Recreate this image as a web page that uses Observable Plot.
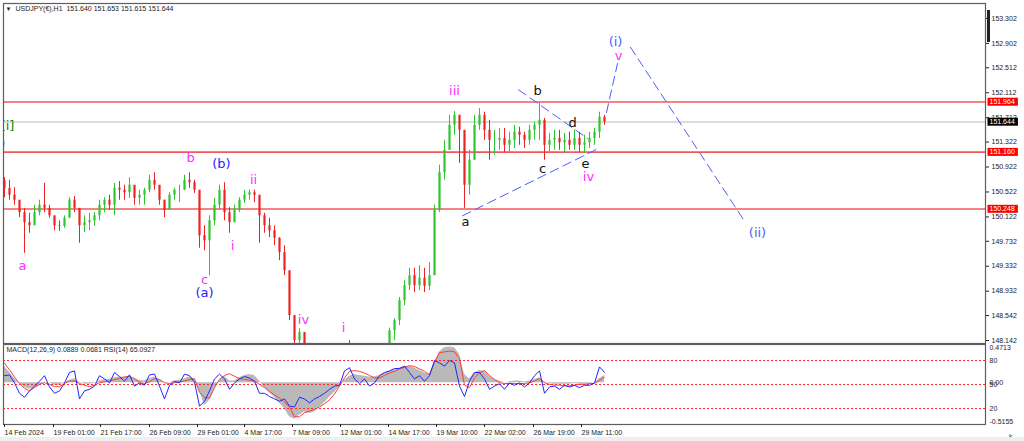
<!DOCTYPE html>
<html><head><meta charset="utf-8">
<script src="https://cdn.jsdelivr.net/npm/d3@7"></script>
<script src="https://cdn.jsdelivr.net/npm/@observablehq/plot@0.6"></script>
<style>
html,body{margin:0;padding:0;background:#fff;}
#wrap{position:relative;width:1024px;height:441px;overflow:hidden;background:#fff;}
#wrap svg{position:absolute;left:0;}
.deco{position:absolute;}
</style></head><body><div id="wrap"></div>
<script>
// ---------- DATA ----------
const symbolTitle = "USDJPY(€),H1  151.640 151.653 151.615 151.644";
const indicatorTitle = "MACD(12,26,9) 0.0889 0.0681 RSI(14) 65.0927";
const firstOpen = 150.70;
const high = [150.75,150.71,150.59,150.34,150.26,150.18,150.31,150.39,150.66,150.31,
150.10,150.06,150.14,150.43,150.45,150.23,150.14,150.18,150.19,150.39,
150.43,150.47,150.66,150.69,150.63,150.75,150.55,150.55,150.58,150.79,
150.83,150.55,150.39,150.51,150.58,150.63,150.79,150.83,150.71,150.39,
149.98,150.14,150.42,150.63,150.67,150.27,150.31,150.43,150.55,150.55,
150.55,150.43,150.18,150.10,149.98,149.79,149.66,149.02,148.54,148.33,
148.20,147.80,147.30,147.10,147.20,147.30,147.60,147.80,148.00,148.14,
147.95,147.90,147.95,148.00,147.90,148.05,148.08,148.34,148.49,148.83,
149.10,149.30,149.30,149.34,149.30,149.39,150.31,150.95,151.35,151.75,
151.81,151.75,151.27,151.19,151.75,151.86,151.80,151.67,151.51,151.54,
151.54,151.48,151.59,151.56,151.48,151.59,151.64,151.96,151.70,151.46,
151.51,151.51,151.46,151.48,151.51,151.48,151.43,151.48,151.54,151.80,
151.75];
const low = [150.43,150.39,150.31,150.11,149.54,149.86,150.03,150.14,150.19,150.10,
149.90,149.89,149.94,150.19,150.19,149.70,149.87,149.90,149.97,150.06,
150.19,150.23,150.14,150.39,150.39,150.42,150.31,150.31,150.31,150.51,
150.55,150.31,150.11,150.23,150.39,150.35,150.55,150.58,150.50,149.62,
149.58,149.18,149.98,150.23,150.06,149.86,150.03,150.19,150.34,150.39,
150.35,149.70,149.86,149.79,149.66,149.42,149.18,148.46,148.06,147.95,
147.60,147.05,146.70,146.50,146.55,146.70,147.05,147.30,147.55,147.65,
147.50,147.45,147.60,147.60,147.50,147.75,147.80,147.95,148.14,148.38,
148.70,148.94,148.91,148.94,148.91,148.94,149.23,150.19,150.71,151.19,
151.43,150.98,150.26,150.47,151.03,151.51,151.35,151.03,151.11,151.19,
151.15,151.15,151.22,151.27,151.22,151.27,151.35,151.35,151.03,151.15,
151.19,151.19,151.15,151.19,151.19,151.15,151.14,151.22,151.27,151.38,
151.59];
const close = [150.58,150.47,150.39,150.19,150.03,149.98,150.19,150.31,150.26,150.14,
149.98,149.97,150.10,150.39,150.26,149.98,150.03,150.06,150.14,150.31,
150.39,150.31,150.58,150.55,150.51,150.63,150.42,150.47,150.55,150.71,
150.63,150.39,150.23,150.47,150.55,150.55,150.71,150.67,150.55,149.82,
149.74,150.06,150.31,150.55,150.19,150.03,150.23,150.39,150.47,150.51,
150.47,150.14,149.98,149.90,149.78,149.55,149.26,148.54,148.14,148.27,
147.70,147.15,146.90,146.95,146.80,147.15,147.50,147.70,147.90,147.75,
147.70,147.80,147.85,147.70,147.85,147.95,148.02,148.30,148.46,148.78,
149.02,149.18,149.02,149.14,149.01,149.18,150.23,150.83,151.19,151.59,
151.75,151.51,150.63,151.03,151.59,151.75,151.51,151.35,151.35,151.38,
151.27,151.35,151.48,151.43,151.35,151.51,151.59,151.67,151.27,151.35,
151.38,151.31,151.35,151.27,151.38,151.27,151.31,151.38,151.48,151.72,
151.644];
const rsi = [61,62,52,39,34,42,48,54,61,47,
39,42,52,65,67,32,42,44,48,61,
57,52,65,60,54,62,48,52,49,62,
63,48,32,49,54,52,63,61,53,23,
29,42,57,63,57,44,52,57,60,58,
54,39,39,35,32,29,32,23,22,34,
32,27,32,35,39,44,48,49,67,71,
57,51,57,48,52,61,65,67,70,70,
73,65,57,61,54,61,80,77,73,80,
77,48,35,54,65,65,57,44,48,51,
44,52,49,52,47,52,61,67,39,47,
48,44,49,47,49,46,49,49,52,72,
65.09];
const macd = [0.20,0.13,0.05,-0.01,-0.06,-0.08,-0.06,-0.04,0.00,0.00,
-0.03,-0.03,0.00,0.03,0.05,0.01,-0.02,-0.02,-0.01,0.02,
0.04,0.04,0.06,0.07,0.07,0.08,0.05,0.03,0.02,0.05,
0.07,0.04,0.00,0.00,0.02,0.03,0.05,0.07,0.05,-0.10,
-0.28,-0.22,-0.08,0.03,0.08,0.02,0.02,0.06,0.09,0.10,
0.09,0.02,-0.06,-0.12,-0.18,-0.25,-0.32,-0.42,-0.45,-0.40,
-0.36,-0.38,-0.36,-0.30,-0.25,-0.18,-0.12,-0.05,0.03,0.08,
0.10,0.09,0.08,0.07,0.07,0.09,0.12,0.14,0.16,0.18,
0.20,0.20,0.18,0.15,0.12,0.10,0.25,0.38,0.43,0.44,
0.43,0.35,0.10,0.05,0.12,0.15,0.14,0.08,0.04,0.02,
0.00,0.01,0.02,0.02,0.01,0.02,0.04,0.06,0.01,-0.01,
-0.02,-0.02,-0.02,-0.02,-0.01,-0.02,-0.02,-0.01,0.00,0.05,
0.0889];
const signal = [0.24,0.16,0.07,-0.01,-0.07,-0.10,-0.06,-0.02,0.00,-0.02,
-0.05,-0.05,-0.01,0.02,0.02,-0.01,-0.03,-0.05,-0.03,0.00,
0.01,0.02,0.04,0.05,0.07,0.08,0.05,0.00,-0.01,0.01,
0.05,0.04,0.00,-0.01,0.00,0.01,0.02,0.04,0.05,-0.12,
-0.18,-0.19,-0.06,0.04,0.09,0.11,0.08,0.05,0.04,0.03,
0.02,-0.02,-0.06,-0.11,-0.15,-0.19,-0.24,-0.30,-0.42,-0.42,
-0.37,-0.35,-0.33,-0.30,-0.26,-0.21,-0.14,-0.04,0.06,0.14,
0.15,0.14,0.12,0.09,0.06,0.06,0.09,0.12,0.14,0.17,
0.19,0.21,0.20,0.17,0.14,0.10,0.25,0.37,0.38,0.39,
0.38,0.30,-0.03,-0.06,0.06,0.12,0.15,0.09,0.04,0.00,
-0.01,-0.01,-0.01,-0.01,-0.01,0.00,0.02,0.05,0.00,-0.02,
-0.03,-0.03,-0.04,-0.04,-0.03,-0.02,-0.02,-0.01,-0.01,0.03,
0.0681];
const priceTicks = [153.302,152.902,152.512,152.112,151.712,151.322,150.922,150.522,150.122,149.732,149.332,148.932,148.542,148.142];
const levelPrices = [151.964,151.160,150.248];
const currentPrice = 151.644;
const dateTickBars = [-0.2,9.6,19,28.8,38.4,47.8,57.4,67,76.6,86.2,95.8,105.6,115.2];
const dateTickLabels = ["14 Feb 2024","19 Feb 01:00","21 Feb 17:00","26 Feb 09:00","29 Feb 01:00","4 Mar 17:00","7 Mar 09:00","12 Mar 01:00","14 Mar 17:00","19 Mar 10:00","22 Mar 02:00","26 Mar 19:00","29 Mar 11:00"];
const rsiLevels = [80,50,20];
const macdRange = [-0.5155,0.4713];
// triangle & projection trendlines (bar index, price, segment id)
const triBars = [102.8,116.6,91.6,118.8];
const triPrices = [152.16,151.38,150.14,151.22];
const triSeg = [1,1,2,2];
const projBars = [120.4,122.6,125.2,148.2];
const projPrices = [151.795,152.58,152.84,150.03];
const projSeg = [1,1,2,2];
// wave labels
const waveText  = ["a","b","(b)","ii","i","c","(a)","iv","i","iii","b","d","c","e","iv","a","(i)","v","(ii)","[i]","(i)"];
const waveBars  = [3.6,37.2,43.4,49.8,45.6,40,40,59.8,67.8,90,106.6,113.6,107.6,116.2,116.8,92.2,122.2,122.8,150.6,0.6,-1.2];
const wavePrices= [149.343,151.074,150.978,150.721,149.664,149.119,148.910,148.478,148.350,152.148,152.148,151.635,150.898,150.978,150.769,150.048,152.933,152.709,149.872,151.587,151.298];
const waveKind  = ["m","m","B","m","m","m","B","m","m","m","k","k","k","k","m","k","L","m","L","g","B"];

// ---------- BUILD ----------
const MAG="#ff2cff", BLU="#1e1eff", LBLU="#4a62ff", BLK="#111", GRN="#0b8a0b";
const kindColor = {m:MAG,B:BLU,L:LBLU,k:BLK,g:GRN};
const GREEN="#2ec52e", RED="#ee2222";
const candles = close.map((c,i)=>({k:i,o:i===0?firstOpen:close[i-1],c,h:high[i],l:low[i]}));
candles.forEach(d=>d.col = d.c>=d.o?GREEN:RED);
const tri = triBars.map((k,i)=>({k,p:triPrices[i],s:triSeg[i]}));
const proj = projBars.map((k,i)=>({k,p:projPrices[i],s:projSeg[i]}));
const waves = waveText.map((t,i)=>({t,k:waveBars[i],p:wavePrices[i],col:kindColor[waveKind[i]]}));
const boxes = [...levelPrices.map(v=>({v,bg:"#ff0000"})),{v:currentPrice,bg:"#000000"}];
const FONT = "Liberation Sans, Arial, sans-serif";
const xDomain = [-0.2,196.2];

const price = Plot.plot({
  width:1024,height:344,marginLeft:3,marginRight:39,marginTop:3,marginBottom:1,
  x:{domain:xDomain,axis:null},
  y:{domain:[148.094,153.542],axis:null},
  color:{type:"identity"},
  style:{background:"transparent",fontFamily:FONT,fontSize:"7px",color:"#222"},
  marks:[
    Plot.ruleY([currentPrice],{stroke:"#dcdcdc",strokeWidth:2}),
    Plot.ruleY(levelPrices,{stroke:"#f05a5a",strokeWidth:1.6}),
    Plot.ruleX(candles,{x:"k",y1:"l",y2:"h",stroke:"col",strokeWidth:1,clip:true}),
    Plot.ruleX(candles,{x:"k",y1:"o",y2:"c",stroke:"col",strokeWidth:2.2,clip:true}),
    Plot.line(tri,{x:"k",y:"p",z:"s",stroke:"#4a5cff",strokeWidth:1,strokeDasharray:"9,5"}),
    Plot.line(proj,{x:"k",y:"p",z:"s",stroke:"#4a5cff",strokeWidth:1,strokeDasharray:"9,5"}),
    Plot.text(waves,{x:"k",y:"p",text:"t",fill:"col",fontSize:13,fontFamily:"DejaVu Sans, sans-serif",clip:true}),
    Plot.frame({stroke:"#5e5e5e",strokeWidth:1.2}),
    Plot.axisY({anchor:"right",ticks:priceTicks,tickFormat:d=>d.toFixed(3),tickSize:3,tickPadding:3,fontSize:7}),
    Plot.text(boxes,{y:"v",text:d=>d.v.toFixed(3),frameAnchor:"right",dx:4,textAnchor:"start",fill:"#fffffe",fontSize:7}),
    Plot.text(["▼"],{frameAnchor:"top-left",dx:2,dy:3,lineAnchor:"top",fontSize:6,fill:"#222"}),
    Plot.text([symbolTitle],{frameAnchor:"top-left",dx:12,dy:3,lineAnchor:"top",fontSize:7,fill:"#222"})
  ]
});
price.style.top="0px";

const toPanel = d3.scaleLinear(macdRange,[0,100]);
const zeroPanel = toPanel(0);
const macdData = macd.map((m,i)=>({k:i,m:toPanel(m)}));
const sigData = signal.map((s,i)=>({k:i,s:toPanel(s)}));
const rsiData = rsi.map((r,i)=>({k:i,r}));
const rightLabels = [
  {t:"80",v:80},{t:"50",v:50},{t:"0.00",v:zeroPanel},{t:"20",v:20}
];
const ind = Plot.plot({
  width:1024,height:98,marginLeft:3,marginRight:39,marginTop:1,marginBottom:17,
  x:{domain:xDomain},
  y:{domain:[0,100],axis:null},
  style:{background:"transparent",fontFamily:FONT,fontSize:"7px",color:"#222"},
  marks:[
    Plot.areaY(macdData,{x:"k",y1:zeroPanel,y2:"m",fill:"#b9b9b9"}),
    Plot.ruleY(rsiLevels,{stroke:"#ff2a2a",strokeWidth:1,strokeDasharray:"2,2"}),
    Plot.line(sigData,{x:"k",y:"s",stroke:"#ff3b3b",strokeWidth:1}),
    Plot.line(rsiData,{x:"k",y:"r",stroke:"#2424ff",strokeWidth:1}),
    Plot.frame({stroke:"#5e5e5e",strokeWidth:1.2}),
    Plot.axisX({ticks:dateTickBars,tickFormat:(d,i)=>dateTickLabels[i],textAnchor:"start",tickSize:3,tickPadding:3,fontSize:7,dx:1}),
    Plot.text(rightLabels,{y:"v",text:"t",frameAnchor:"right",dx:4,textAnchor:"start",fill:"#222",fontSize:7}),
    Plot.text([macdRange[1].toFixed(4)],{y:[toPanel(macdRange[1])],frameAnchor:"right",dx:4,dy:1,textAnchor:"start",lineAnchor:"top",fill:"#222",fontSize:7}),
    Plot.text([macdRange[0].toFixed(4)],{y:[toPanel(macdRange[0])],frameAnchor:"right",dx:4,dy:-1,textAnchor:"start",lineAnchor:"bottom",fill:"#222",fontSize:7}),
    Plot.text([indicatorTitle],{frameAnchor:"top-left",dx:3,dy:3,lineAnchor:"top",fontSize:7,fill:"#222"})
  ]
});
ind.style.top="343px";

const wrap = document.getElementById("wrap");
wrap.appendChild(price);
wrap.appendChild(ind);

// boxes behind right-axis value labels
const boxTexts = Array.from(price.querySelectorAll("text")).filter(t=>{
  const g = t.closest("g"); return g && g.getAttribute("fill")==="#fffffe";
});
boxTexts.forEach((t,i)=>{
  const b = t.getBBox();
  const r = document.createElementNS("http://www.w3.org/2000/svg","rect");
  r.setAttribute("x",b.x-2); r.setAttribute("y",b.y-0.5);
  r.setAttribute("width",b.width+5); r.setAttribute("height",b.height+1);
  r.setAttribute("fill",boxes[i] ? boxes[i].bg : "#f00");
  if(t.getAttribute("transform")) r.setAttribute("transform",t.getAttribute("transform"));
  t.parentNode.insertBefore(r,t);
});

// cosmetic: scrollbar stub and bottom strip
const sb=document.createElement("div");sb.className="deco";
Object.assign(sb.style,{left:"987px",top:"10px",width:"3px",height:"32px",background:"#222"});
wrap.appendChild(sb);
const st=document.createElement("div");st.className="deco";
Object.assign(st.style,{left:"0px",top:"437px",width:"1024px",height:"4px",background:"#efefef"});
wrap.appendChild(st);
</script></body></html>
